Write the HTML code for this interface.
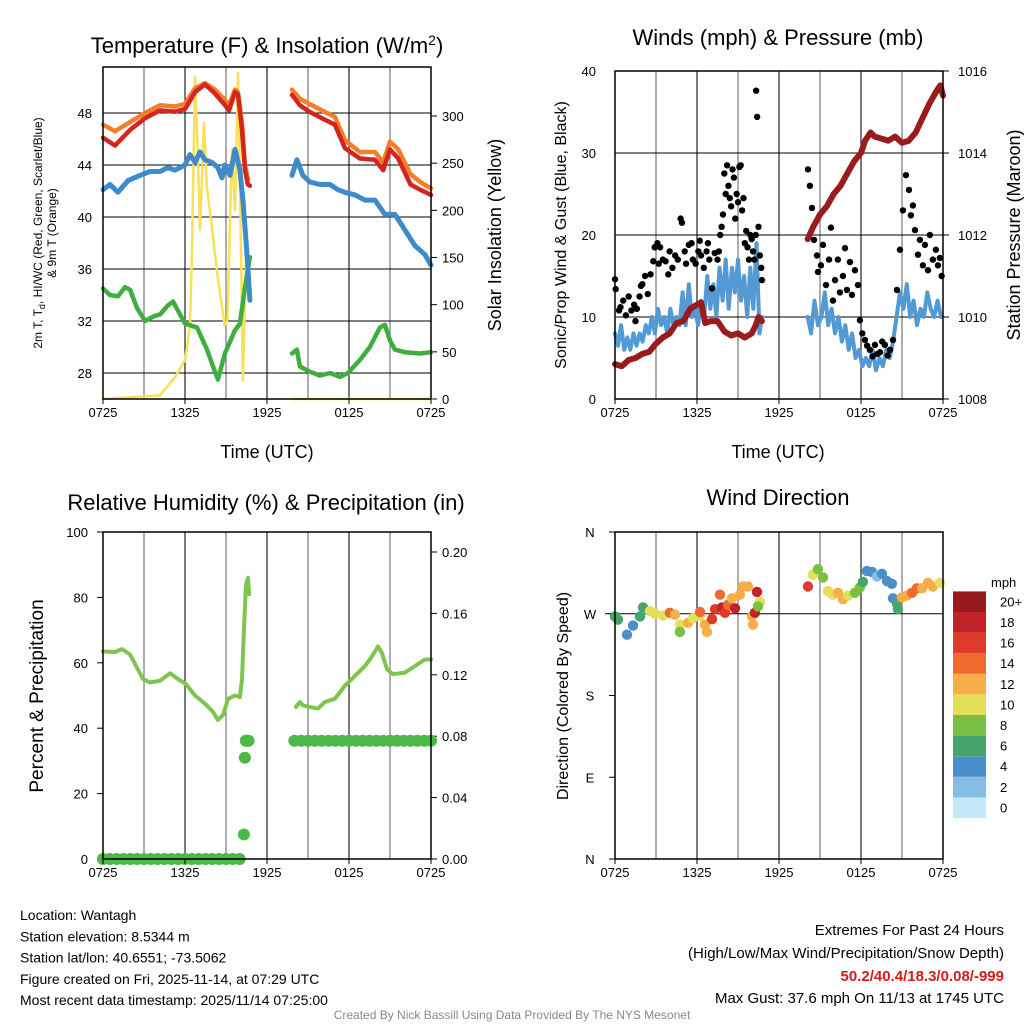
<!DOCTYPE html>
<html><head><meta charset="utf-8"><style>
html,body{margin:0;padding:0;background:#fff}
svg{display:block;font-family:"Liberation Sans",Arial,sans-serif}
</style></head><body>
<svg id="s" width="1024" height="1024" viewBox="0 0 1024 1024"></svg>
<script>
// ---------- DATA (hours since 0725 UTC) ----------
var xTickLabels=["0725","1325","1925","0125","0725"];
var tempTicks=[28,32,36,40,44,48];
var solarTicks=[0,50,100,150,200,250,300];
var windTicks=[0,10,20,30,40];
var presTicks=[1008,1010,1012,1014,1016];
var rhTicks=[0,20,40,60,80,100];
var precipTicks=[0,0.04,0.08,0.12,0.16,0.20];
var dirTicks=["N","E","S","W","N"];
var speedBins=["0","2","4","6","8","10","12","14","16","18","20+"];
var speedColors=["#c4e8f7","#86bde6","#4a8fca","#46a46c","#79c043","#e2df58","#f8ae48","#ef6a2d","#df3a2a","#c2222a","#981c1f"];

var redT1=[0,0.88,1.98,3.07,4.17,5.27,6.0,6.73,7.46,8.19,8.93,9.22,9.66,9.88,10.17,10.39,10.6,10.75];
var redV1=[46.1,45.5,46.7,47.6,48.2,48.1,48.3,49.6,50.2,49.5,48.6,48.2,49.6,49.4,46.7,43.6,42.5,42.4];
var redT2=[13.83,14.4,15.1,16.2,16.97,17.7,18.8,19.9,20.5,21.0,21.6,22.5,23.2,24];
var redV2=[49.4,48.6,48.1,47.5,47.1,45.3,44.5,44.4,43.6,45.2,44.5,42.5,42.1,41.7];
var orT1=[0,0.88,1.98,3.07,4.17,5.27,6.0,6.73,7.46,8.19,8.93,9.22,9.66,9.88,10.17,10.39,10.6];
var orV1=[47.1,46.6,47.3,48.0,48.6,48.5,48.7,49.9,50.3,49.8,49.0,48.6,49.8,49.6,47.2,44.0,42.9];
var orT2=[13.83,14.4,15.1,16.2,16.97,17.7,18.8,19.9,20.5,21.0,21.6,22.5,23.2,24];
var orV2=[49.8,49.1,48.7,48.1,47.7,45.9,45.0,45.0,44.2,45.8,45.2,43.3,42.7,42.2];
var bluT1=[0,0.51,1.1,1.83,2.71,3.44,4.17,4.75,5.27,6.0,6.36,6.73,7.1,7.46,7.97,8.41,8.71,8.92,9.29,9.66,10.02,10.24,10.46,10.61,10.75];
var bluV1=[42.1,42.5,41.9,42.8,43.2,43.5,43.5,43.8,43.6,44.0,44.8,44.2,45.0,44.4,44.2,43.8,43.0,44.0,43.2,45.2,43.6,41.3,38.2,35.9,33.6];
var bluT2=[13.83,14.19,14.63,15.14,15.87,16.61,17.19,17.7,18.43,19.17,19.9,20.63,21.36,22.09,22.82,23.56,24];
var bluV2=[43.2,44.4,43.2,42.7,42.5,42.5,42.1,41.9,41.7,41.3,41.3,40.2,40.2,39.0,37.8,37.1,36.3];
var grnT1=[0,0.51,1.1,1.61,1.98,2.49,3.07,3.8,4.17,4.75,5.12,6.0,6.88,7.61,8.12,8.41,8.92,9.66,10.02,10.39,10.75];
var grnV1=[34.5,34.0,33.9,34.6,34.4,33.0,32.0,32.4,32.5,33.2,33.5,31.8,31.5,29.8,28.3,27.5,29.5,31.3,31.8,34.6,36.9];
var grnT2=[13.83,14.19,14.41,15.14,15.87,16.61,17.34,17.92,18.8,19.53,20.26,20.63,21.0,21.36,22.09,23.19,24];
var grnV2=[29.5,29.8,28.5,28.1,27.8,28.0,27.7,28.0,29.0,30.0,31.5,31.7,30.5,29.8,29.6,29.5,29.6];
var solT=[0,4.17,5.27,6.0,6.36,6.5,6.73,6.95,7.1,7.39,7.6,7.97,8.4,8.9,9.1,9.44,9.66,9.88,10.0,10.24,10.46,10.68];
var solV=[0,4,23,41,76,147,341,253,179,293,225,182,129,78,84,264,200,346,253,20,147,150];
var solT2=[13.83,24];
var solV2=[0,0];

var presT1=[0,0.5,1,1.5,2,2.5,3,3.5,4,4.5,5,5.5,6,6.3,6.6,7,7.5,8,8.5,9,9.5,10,10.3,10.5,10.75];
var presV1=[1008.85,1008.8,1008.95,1009.0,1009.1,1009.15,1009.35,1009.5,1009.6,1009.85,1009.9,1010.2,1010.3,1010.35,1009.85,1009.9,1009.9,1009.65,1009.55,1009.6,1009.5,1009.6,1009.8,1010.0,1009.9];
var presT2=[14.1,14.5,15,15.5,16,16.5,17,17.5,18,18.3,18.7,19,19.5,20,20.5,21,21.5,22,22.5,23,23.5,23.8,24];
var presV2=[1011.9,1012.2,1012.5,1012.7,1013.0,1013.2,1013.5,1013.8,1014.0,1014.3,1014.5,1014.4,1014.35,1014.3,1014.4,1014.25,1014.3,1014.5,1014.85,1015.2,1015.5,1015.65,1015.4];
var windT1=[0,0.22,0.45,0.67,0.9,1.12,1.35,1.57,1.8,2.02,2.25,2.47,2.7,2.92,3.15,3.37,3.6,3.82,4.05,4.27,4.5,4.72,4.95,5.17,5.4,5.62,5.85,6.07,6.3,6.52,6.75,6.97,7.2,7.42,7.65,7.87,8.1,8.32,8.55,8.77,9.0,9.22,9.45,9.67,9.9,10.12,10.35,10.57,10.75];
var windV1=[8,6.5,9,6,7.5,6,8,6.5,8,7,9,8,10,8,11,9,10,8,11,9,10,9,13,9,14,10,11,9,12,10,15,11,14,10,16,12,17,11,16,13,17,12,15,10,16,11,19,8,10];
var windT2=[14.1,14.35,14.6,14.85,15.1,15.35,15.6,15.85,16.1,16.35,16.6,16.85,17.1,17.35,17.6,17.85,18.1,18.35,18.6,18.85,19.1,19.35,19.6,19.85,20.1,20.35,20.6,20.85,21.1,21.35,21.6,21.85,22.1,22.35,22.6,22.85,23.1,23.35,23.6,23.85];
var windV2=[10,8,12,9,10,13,9,11,8,10,7,9,6,8,5,6,4,5,4,6,3.5,5,4,6,5,7,10,13,11,14,10,12,9,11,10,13,11,10,12,10];
var gustT=[0,0.05,0.3,0.4,0.6,0.8,1.0,1.2,1.4,1.5,1.6,1.8,1.9,2.0,2.2,2.4,2.6,2.8,2.9,3.1,3.2,3.3,3.5,3.7,3.9,4.0,4.2,4.4,4.6,4.8,4.9,5.1,5.2,5.4,5.6,5.7,5.9,6.1,6.2,6.3,6.5,6.7,6.8,6.9,7.1,7.3,7.5,7.6,7.7,7.8,7.9,8.0,8.1,8.2,8.3,8.4,8.5,8.6,8.7,8.8,8.9,9.0,9.1,9.2,9.3,9.4,9.5,9.6,9.7,9.8,9.9,10.0,10.1,10.2,10.3,10.33,10.4,10.5,10.6,10.7,10.75,
14.12,14.26,14.41,14.56,14.78,14.85,15.07,15.22,15.44,15.66,15.8,15.95,16.1,16.31,16.46,16.68,16.83,16.97,17.19,17.34,17.56,17.78,17.92,18.1,18.29,18.45,18.65,18.85,19.02,19.2,19.39,19.55,19.75,19.95,20.12,20.34,20.63,20.85,21.07,21.29,21.51,21.65,21.8,21.95,22.17,22.31,22.53,22.68,22.9,23.04,23.26,23.48,23.63,23.77,23.9];
var gustV=[14.6,13.4,10.8,11.2,12,10.2,12.5,10.8,11.5,9.5,11,12.5,13.8,14,15,12.8,15.2,16.8,18.5,19,16.5,18.5,17,16.8,15.2,18,16,17.5,17,22,21.5,18,16.5,18.8,19,17,16.5,18,19.3,17.5,16,18,19,17,13.5,17.8,17,18,20,21,22.5,27.5,25,28.5,26,24.5,23.5,28,27,22,25,24,28.3,28.5,23,24.5,19,20.5,18.5,17,20,19.5,18,17,20,37.6,34.4,21,17.5,16,14.5,
28,26,23.3,19.4,17.5,15.5,16.3,18.8,13.9,17,20.9,12,14.5,17,13,15,18.4,13.3,16.7,12.7,15.7,13.9,9.6,8,7.2,6.5,6,5.2,6.6,5.5,5.7,7,6.6,5.3,6,7.2,13.3,18.2,23,27.3,25.5,22.4,23.6,20.6,17.6,19.4,16.3,18.8,15.7,20,17,18.2,16.3,17.2,15];

var rhT1=[0,0.88,1.39,1.98,2.49,2.93,3.44,4.17,4.9,5.49,6.07,6.73,7.46,8.05,8.41,8.78,9.15,9.66,10.02,10.17,10.31,10.46,10.61,10.68];
var rhV1=[63.5,63.3,64.2,62.5,58.5,55,54,54.5,56.8,55,53.5,50,47.5,45,42.5,44,49,50,49.5,55,70,84,86,81];
var rhT2=[14.12,14.41,14.63,15.14,15.73,16.24,16.97,17.7,18.43,19.17,19.68,20.12,20.41,20.78,21.22,22.09,22.82,23.56,24];
var rhV2=[46.5,48,47,46.5,46,48,49,53,56,59,62,65,63,58,56.5,57,59,61,61];
var pcpT=[0,0.5,1,1.5,2,2.5,3,3.5,4,4.5,5,5.5,6,6.5,7,7.5,8,8.5,9,9.5,10,10.31,10.38,10.45,10.55,10.65,
14,14.5,15,15.5,16,16.5,17,17.5,18,18.5,19,19.5,20,20.5,21,21.5,22,22.5,23,23.5,24];
var pcpV=[0,0,0,0,0,0,0,0,0,0,0,0,0,0,0,0,0,0,0,0,0,0.016,0.066,0.077,0.077,0.077,
0.077,0.077,0.077,0.077,0.077,0.077,0.077,0.077,0.077,0.077,0.077,0.077,0.077,0.077,0.077,0.077,0.077,0.077,0.077,0.077,0.077];

var dirT=[0,0.22,0.88,1.32,1.83,2.05,2.56,2.93,3.51,4.02,4.39,4.75,4.75,5.34,5.71,6.22,6.22,6.58,6.73,7.1,7.32,7.68,7.83,8.05,8.27,8.56,8.78,9.14,9.36,9.73,10.02,10.1,10.39,10.24,10.61,10.46,
14.12,14.48,14.85,15.22,15.58,15.95,16.31,16.68,17.05,17.56,17.92,18.14,18.43,18.8,19.17,19.53,19.9,20.26,20.34,20.63,20.7,20.99,21.36,21.73,22.09,22.46,22.9,23.26,23.77];
var dirV=[267,263.5,247,257,267,277,273,270,268,271,269,258,250,260,265,268,272,258,250,264,275,291,277,271,280,287,276,291,300,300,267,258,294,271,283,278,
300,313,319,310,295,291,293,286,290,293,299,305,317,316,311,314,306,303,287,281,275,288,290,293,298,298,304,300,304];
var dirS=[7,7,5,5,7,7,10,10,10,14,12,10,8,12,10,10,14,12,12,16,16,14,18,16,14,12,19,12,12,12,12,12,19,19,10,8,
16,10,8,8,10,10,12,12,10,8,8,6,4,4,2,4,4,4,4,6,6,12,12,14,14,12,12,12,10];

// ---------- RENDER ----------
var NS="http://www.w3.org/2000/svg", S=document.getElementById('s');
function mk(tag,attrs,parent){var e=document.createElementNS(NS,tag);for(var k in attrs)e.setAttribute(k,attrs[k]);(parent||S).appendChild(e);return e;}
function txt(x,y,str,size,anchor,extra){var a={x:x,y:y,'font-size':size,'text-anchor':anchor||'middle',fill:'#000'};if(extra)for(var k in extra)a[k]=extra[k];var t=mk('text',a);t.textContent=str;return t;}
function lin(a,b){return function(v){return a[1]+(v-a[0])*(b[1]-a[1])/(b[0]-a[0]);};}

function frame(name,x0,x1,y0,y1){
  var g=mk('g',{});
  
  
  for(var k=1;k<8;k++){var x=x0+k*(x1-x0)/8;var l=mk('line',{x1:x,x2:x,y1:y0,y2:y1,stroke:(k%2?'#777':'#222'),'stroke-width':1.2},g);
    
    }
  return g;
}
function border(name,x0,x1,y0,y1){var r=mk('rect',{x:x0,y:y0,width:x1-x0,height:y1-y0,fill:'none',stroke:'#000','stroke-width':1.5});
  
  }
function xLabels(x0,x1,yb){for(var i=0;i<xTickLabels.length;i++){var x=x0+i*(x1-x0)/4;mk('line',{x1:x,x2:x,y1:yb,y2:yb+5,stroke:'#000'});var t=txt(x,yb+18,xTickLabels[i],13);
  
  }}
function hgrid(x0,x1,y){var l=mk('line',{x1:x0,x2:x1,y1:y,y2:y,stroke:'#000','stroke-width':1});
  
  }
function line(T,V,xs,ys,color,w,name){var p=[];for(var i=0;i<T.length;i++)p.push(xs(T[i]).toFixed(1)+','+ys(V[i]).toFixed(1));
  var e=mk('polyline',{points:p.join(' '),fill:'none',stroke:color,'stroke-width':w,'stroke-linejoin':'round','stroke-linecap':'round'});
  
  }

// Panel 1: temperature
var X1=lin([0,103],[24,431]);
var yT=lin([28,373],[48,113]);
var yS=lin([0,399],[300,116]);
frame('temperature-plot',103,431,67,399);
for(var i=0;i<tempTicks.length;i++){var y=yT(tempTicks[i]);hgrid(103,431,y);var t=txt(92,y+5,String(tempTicks[i]),13,'end');
  
  }
for(var i=0;i<solarTicks.length;i++){var y=yS(solarTicks[i]);mk('line',{x1:431,x2:437,y1:y,y2:y,stroke:'#000'});var t=txt(442,y+5,String(solarTicks[i]),13,'start');
  
  }
line(solT,solV,X1,yS,'#f9e05a',2.5,'solar-line');
line(solT2,solV2,X1,yS,'#f9e05a',2.5,'solar-line-2');
line(grnT1,grnV1,X1,yT,'#3fae3f',4.5,'dewpoint-line');
line(grnT2,grnV2,X1,yT,'#3fae3f',4.5,'dewpoint-line-2');
line(bluT1,bluV1,X1,yT,'#3f8ac8',5,'heat-index-line');
line(bluT2,bluV2,X1,yT,'#3f8ac8',5,'heat-index-line-2');
line(orT1,orV1,X1,yT,'#f47e2a',4.5,'temp-9m-line');
line(orT2,orV2,X1,yT,'#f47e2a',4.5,'temp-9m-line-2');
line(redT1,redV1,X1,yT,'#d42620',4.5,'temp-2m-line');
line(redT2,redV2,X1,yT,'#d42620',4.5,'temp-2m-line-2');
border('temperature-frame',103,431,67,399);
xLabels(103,431,399);
var t=mk('text',{x:267,y:53,'font-size':22,'text-anchor':'middle'});t.innerHTML='Temperature (F) &amp; Insolation (W/m<tspan dy="-8" font-size="14">2</tspan><tspan dy="8">)</tspan>';


t=txt(267,458,'Time (UTC)',18);


t=txt(0,0,'2m T, T',12,'middle',{transform:'translate(42,233) rotate(-90)'});t.innerHTML='2m T, T<tspan font-size="9" dy="3">d</tspan><tspan dy="-3">, HI/WC (Red, Green, Scarlet/Blue)</tspan>';


t=txt(0,0,'& 9m T (Orange)',12,'middle',{transform:'translate(56,233) rotate(-90)'});


t=txt(0,0,'Solar Insolation (Yellow)',18,'middle',{transform:'translate(501,235) rotate(-90)'});



// Panel 2: winds
var X2=lin([0,615],[24,943]);
var yW=lin([0,399],[40,71]);
var yP=lin([1008,399],[1016,71]);
frame('winds-plot',615,943,71,399);
for(var i=0;i<windTicks.length;i++){var y=yW(windTicks[i]);if(i>0&&i<4)hgrid(615,943,y);var t=txt(596,y+5,String(windTicks[i]),13,'end');
  
  }
for(var i=0;i<presTicks.length;i++){var y=yP(presTicks[i]);mk('line',{x1:943,x2:949,y1:y,y2:y,stroke:'#000'});var t=txt(958,y+5,String(presTicks[i]),13,'start');
  
  }
line(windT1,windV1,X2,yW,'#5399d3',4,'wind-speed-line');
line(windT2,windV2,X2,yW,'#5399d3',4,'wind-speed-line-2');
line(presT1,presV1,X2,yP,'#981b1e',6,'pressure-line');
line(presT2,presV2,X2,yP,'#981b1e',6,'pressure-line-2');
for(var i=0;i<gustT.length;i++){var c=mk('circle',{cx:X2(gustT[i]),cy:yW(gustV[i]),r:3.2,fill:'#000'});
  
  }
border('winds-frame',615,943,71,399);
xLabels(615,943,399);
t=txt(778,45,'Winds (mph) & Pressure (mb)',22);


t=txt(778,458,'Time (UTC)',18);


t=txt(0,0,'Sonic/Prop Wind & Gust (Blue, Black)',16,'middle',{transform:'translate(566,235) rotate(-90)'});


t=txt(0,0,'Station Pressure (Maroon)',18,'middle',{transform:'translate(1020,235) rotate(-90)'});



// Panel 3: RH
var yR=lin([0,859],[100,532]);
var yPc=lin([0,859],[0.20,552]);
frame('humidity-plot',103,431,532,859);
for(var i=0;i<rhTicks.length;i++){var y=yR(rhTicks[i]);mk('line',{x1:97,x2:103,y1:y,y2:y,stroke:'#000'});var t=txt(88,y+5,String(rhTicks[i]),13,'end');
  
  }
for(var i=0;i<precipTicks.length;i++){var y=yPc(precipTicks[i]);mk('line',{x1:431,x2:437,y1:y,y2:y,stroke:'#000'});var t=txt(442,y+5,precipTicks[i].toFixed(2),13,'start');
  
  }
for(var i=0;i<pcpT.length;i++){var c=mk('circle',{cx:X1(pcpT[i]),cy:yPc(pcpV[i]),r:6,fill:'#4cb848'});
  
  }
line(rhT1,rhV1,X1,yR,'#80c450',4,'rh-line');
line(rhT2,rhV2,X1,yR,'#80c450',4,'rh-line-2');
border('humidity-frame',103,431,532,859);
xLabels(103,431,859);
t=txt(266,510,'Relative Humidity (%) & Precipitation (in)',22);


t=txt(0,0,'Percent & Precipitation',19,'middle',{transform:'translate(43,696) rotate(-90)'});



// Panel 4: wind direction
var yD=lin([0,859],[360,532]);
frame('direction-plot',615,943,532,859);
hgrid(605,943,yD(270));
for(var i=0;i<dirTicks.length;i++){var y=yD(i*90);mk('line',{x1:609,x2:615,y1:y,y2:y,stroke:'#000'});var t=txt(590,y+5,dirTicks[i],13,'middle');
  
  }
for(var i=0;i<dirT.length;i++){var b=Math.min(10,Math.floor(dirS[i]/2));var c=mk('circle',{cx:X2(dirT[i]),cy:yD(dirV[i]),r:5.2,fill:speedColors[b]});
  
  }
border('direction-frame',615,943,532,859);
xLabels(615,943,859);
t=txt(778,505,'Wind Direction',22);


t=txt(0,0,'Direction (Colored By Speed)',16,'middle',{transform:'translate(568,696) rotate(-90)'});


// colorbar
for(var i=0;i<speedBins.length;i++){var y=818-(i+1)*20.6;var r=mk('rect',{x:953,y:y,width:33,height:20.6,fill:speedColors[i]});
  
  
  var t2=txt(1000,y+15,speedBins[i],13,'start');
  
  }
t=txt(991,587,'mph',13,'start');



// Footer text
var info=["Location: Wantagh","Station elevation: 8.5344 m","Station lat/lon: 40.6551; -73.5062","Figure created on Fri, 2025-11-14, at 07:29 UTC","Most recent data timestamp: 2025/11/14 07:25:00"];
for(var i=0;i<info.length;i++){var t3=txt(20,920+i*21.3,info[i],14,'start');
  
  }
t=txt(1004,935,'Extremes For Past 24 Hours',15,'end');


t=txt(1004,958,'(High/Low/Max Wind/Precipitation/Snow Depth)',15,'end');


t=txt(1004,981,'50.2/40.4/18.3/0.08/-999',15,'end',{fill:'#d01c1c','font-weight':'bold'});


t=txt(1004,1003,'Max Gust: 37.6 mph On 11/13 at 1745 UTC',15,'end');


t=txt(512,1019,'Created By Nick Bassill Using Data Provided By The NYS Mesonet',12,'middle',{fill:'#888'});


</script>
</body></html>
